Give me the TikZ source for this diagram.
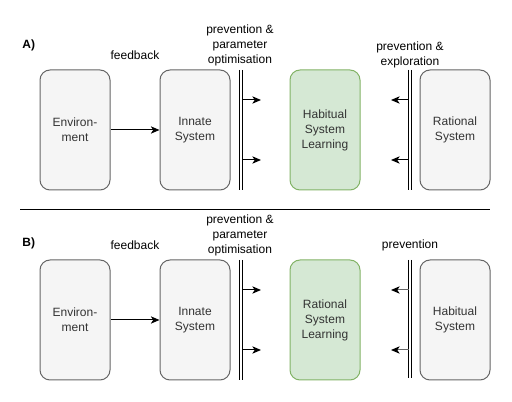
\documentclass[tikz,border=0pt]{standalone}
\usepackage{fontspec}
\setmainfont{Liberation Sans}
\usetikzlibrary{arrows.meta}

\definecolor{boxfill}{HTML}{F5F5F5}
\definecolor{boxline}{HTML}{666666}
\definecolor{boxtext}{HTML}{333333}
\definecolor{learnfill}{HTML}{D5E8D4}
\definecolor{learnline}{HTML}{82B366}

\tikzset{
  system/.style={draw=boxline, fill=boxfill, rounded corners=7.5pt,
    minimum width=52.5pt, minimum height=90pt, inner sep=0pt,
    align=center, text=boxtext},
  learning/.style={system, draw=learnline, fill=learnfill},
  caption/.style={align=center, inner sep=0pt},
  flow/.style={-{Stealth[length=6.5pt,width=5.5pt,inset=1.8pt,color=black]}},
  barrier/.style={line width=0.75pt}
}

\begin{document}
\begin{tikzpicture}[x=0.75pt, y=-0.75pt,
  font=\fontsize{9}{11.25}\selectfont, line width=0.75pt]

  \useasboundingbox (0,0) rectangle (512,402);

  % Panel A
  \node[caption, anchor=west, font=\fontsize{9}{11.25}\selectfont\bfseries] (labA) at (22,45) {A)};

  \node[system] (envA) at (75,130) {Environ-\\ment};
  \node[system] (innA) at (195,130) {Innate\\System};
  \node[learning] (habA) at (325,130) {Habitual\\System\\Learning};
  \node[system] (ratA) at (455,130) {Rational\\System};

  \node[caption] (fbA) at (135,55) {feedback};
  \node[caption] (ppoA) at (240,45) {prevention \&\\parameter\\optimisation};
  \node[caption] (pexA) at (410,55) {prevention \&\\exploration};

  % Double lines
  \coordinate (blA1) at (239.5,70);
  \coordinate (blA2) at (239.5,190);
  \coordinate (brA1) at (242.5,70);
  \coordinate (brA2) at (242.5,190);
  \draw[barrier] (blA1) -- (blA2);
  \draw[barrier] (brA1) -- (brA2);

  \coordinate (dlA1) at (408.5,70);
  \coordinate (dlA2) at (408.5,190);
  \coordinate (drA1) at (411.5,70);
  \coordinate (drA2) at (411.5,190);
  \draw[barrier] (dlA1) -- (dlA2);
  \draw[barrier] (drA1) -- (drA2);

  % Arrows
  \draw[flow] (envA) -- (innA);
  \coordinate (oA1) at (242.5,100);
  \coordinate (oA2) at (242.5,160);
  \coordinate (tA1) at (261,100);
  \coordinate (tA2) at (261,160);
  \draw[flow] (oA1) -- (tA1);
  \draw[flow] (oA2) -- (tA2);
  \coordinate (pA1) at (408.5,100);
  \coordinate (pA2) at (408.5,160);
  \coordinate (qA1) at (391,100);
  \coordinate (qA2) at (391,160);
  \draw[flow] (pA1) -- (qA1);
  \draw[flow] (pA2) -- (qA2);

  % Separator
  \coordinate (sepL) at (20,210);
  \coordinate (sepR) at (490,210);
  \draw (sepL) -- (sepR);

  % Panel B
  \node[caption, anchor=west, font=\fontsize{9}{11.25}\selectfont\bfseries] (labB) at (22,243) {B)};

  \node[system] (envB) at (75,320) {Environ-\\ment};
  \node[system] (innB) at (195,320) {Innate\\System};
  \node[learning] (ratB) at (325,320) {Rational\\System\\Learning};
  \node[system] (habB) at (455,320) {Habitual\\System};

  \node[caption] (fbB) at (135,245) {feedback};
  \node[caption] (ppoB) at (240,235) {prevention \&\\parameter\\optimisation};
  \node[caption] (prvB) at (410,245) {prevention};

  % Double lines
  \coordinate (blB1) at (239.5,260);
  \coordinate (blB2) at (239.5,380);
  \coordinate (brB1) at (242.5,260);
  \coordinate (brB2) at (242.5,380);
  \draw[barrier] (blB1) -- (blB2);
  \draw[barrier] (brB1) -- (brB2);

  \coordinate (dlB1) at (408.5,260);
  \coordinate (dlB2) at (408.5,378);
  \coordinate (drB1) at (411.5,260);
  \coordinate (drB2) at (411.5,378);
  \draw[barrier] (dlB1) -- (dlB2);
  \draw[barrier] (drB1) -- (drB2);

  % Arrows
  \draw[flow] (envB) -- (innB);
  \coordinate (oB1) at (242.5,290);
  \coordinate (oB2) at (242.5,350);
  \coordinate (tB1) at (261,290);
  \coordinate (tB2) at (261,350);
  \draw[flow] (oB1) -- (tB1);
  \draw[flow] (oB2) -- (tB2);
  \coordinate (pB1) at (408.5,290);
  \coordinate (pB2) at (408.5,350);
  \coordinate (qB1) at (391,290);
  \coordinate (qB2) at (391,350);
  \draw[flow, draw=boxline] (pB1) -- (qB1);
  \draw[flow, draw=boxline] (pB2) -- (qB2);

\end{tikzpicture}
\end{document}
